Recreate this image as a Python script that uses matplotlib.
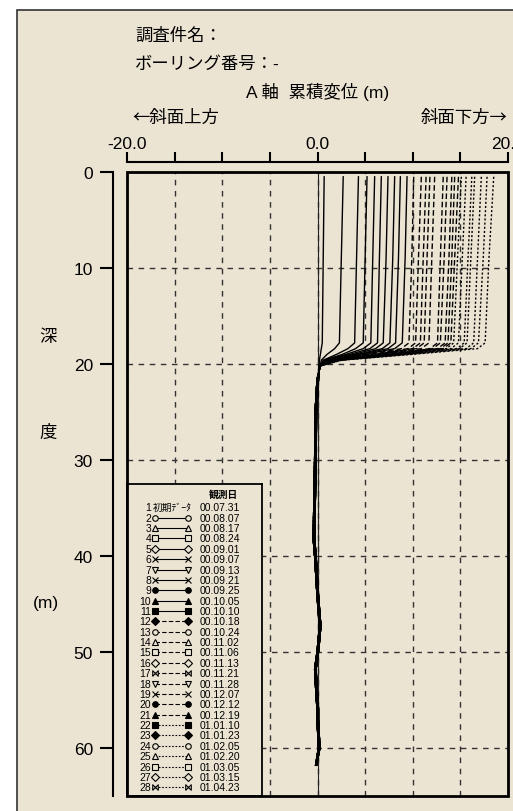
import numpy as np
import matplotlib
matplotlib.use("Agg")
import matplotlib.pyplot as plt
from matplotlib.patches import Rectangle

plt.rcParams['font.family'] = ['Liberation Sans', 'Noto Sans CJK JP', 'DejaVu Sans']

W, H = 513, 812
BG = '#ece4d3'
PT = 0.72  # points per pixel at dpi 100

# observation dates (legend)
dates = ['00.07.31', '00.08.07', '00.08.17', '00.08.24', '00.09.01', '00.09.07',
         '00.09.13', '00.09.21', '00.09.25', '00.10.05', '00.10.10', '00.10.18',
         '00.10.24', '00.11.02', '00.11.06', '00.11.13', '00.11.21', '00.11.28',
         '00.12.07', '00.12.12', '00.12.19', '01.01.10', '01.01.23', '01.02.05',
         '01.02.20', '01.03.05', '01.03.15', '01.04.23']

# depths (m) of the read points above the slip surface
upper_depth = [0.5, 9.0, 17.8, 18.4, 19.0, 19.6]
# cumulative displacement for curves 2..28 at upper_depth
upper_disp = [
    [0.7, 0.6, 0.5, 0.4, 0.3, 0.2],
    [2.7, 2.5, 2.3, 1.8, 1.0, 0.4],
    [4.3, 4.1, 3.9, 3.2, 2.0, 0.6],
    [5.2, 5.0, 4.8, 4.0, 2.6, 0.7],
    [6.0, 5.8, 5.6, 4.8, 3.0, 0.8],
    [6.7, 6.5, 6.3, 5.5, 3.4, 0.9],
    [7.4, 7.2, 6.9, 6.1, 3.8, 1.0],
    [8.1, 7.9, 7.6, 6.8, 4.2, 1.1],
    [8.7, 8.5, 8.2, 7.4, 4.5, 1.2],
    [9.4, 9.2, 8.9, 8.1, 4.9, 1.3],
    [10.1, 9.9, 9.6, 8.8, 5.3, 1.4],
    [10.9, 10.6, 10.3, 9.5, 5.7, 1.5],
    [11.4, 11.1, 10.8, 10.0, 6.0, 1.6],
    [11.8, 11.5, 11.2, 10.4, 6.2, 1.6],
    [12.3, 12.0, 11.7, 10.9, 6.5, 1.7],
    [13.2, 12.9, 12.6, 11.8, 7.0, 1.8],
    [13.6, 13.3, 12.9, 12.1, 7.2, 1.9],
    [14.1, 13.8, 13.4, 12.6, 7.5, 2.0],
    [14.4, 14.1, 13.7, 12.9, 7.6, 2.0],
    [14.8, 14.4, 14.0, 13.2, 7.8, 2.1],
    [15.1, 14.7, 14.3, 13.5, 8.0, 2.1],
    [15.6, 15.2, 14.8, 14.0, 8.3, 2.2],
    [16.2, 15.8, 15.4, 14.6, 8.6, 2.3],
    [16.5, 16.1, 15.7, 14.9, 8.8, 2.3],
    [17.2, 16.8, 16.4, 15.6, 9.2, 2.4],
    [17.8, 17.4, 16.9, 16.1, 9.5, 2.5],
    [18.5, 18.0, 17.6, 16.8, 9.9, 2.6],
]

# below the slip surface all curves stay near zero
deep_depth = [20.2, 21.6, 25, 30, 35.4, 38.2, 40, 44.1, 47.3, 49, 50, 51.8,
              54.5, 55.9, 57, 60, 61.8]
deep_a = [0.2, 0.1, -0.1, -0.15, -0.25, -0.3, -0.15, 0.1, 0.35, 0.2, 0.1,
          -0.15, 0.0, 0.1, 0.1, 0.25, -0.1]
deep_b = [0.3, -0.05, -0.25, -0.3, -0.4, -0.45, -0.3, -0.05, 0.2, 0.05,
          -0.05, -0.3, -0.15, -0.05, -0.05, 0.1, -0.2]

bowtie = [(-1, -1), (-1, 1), (1, -1), (1, 1), (-1, -1)]
markers = [None, 'o', '^', 's', 'D', 'x', 'v', 'x', 'o', '^', 's', 'D',
           'o', '^', 's', 'D', bowtie, 'v', 'x', 'o', '^', 's', 'D',
           'o', '^', 's', 'D', bowtie]
filled = [False] * 28
for k in (9, 10, 11, 12, 20, 21, 22, 23):
    filled[k - 1] = True
styles = ['-'] * 11 + [(0, (4, 2))] * 10 + [(0, (1.5, 1.5))] * 7

fig = plt.figure(figsize=(W / 100, H / 100), dpi=100, facecolor='white')
fig.patches.append(Rectangle((17 / W, -0.1), 1.2, 1 - 11 / H + 0.1,
                             transform=fig.transFigure, fc=BG, ec='#333333',
                             lw=1.2, zorder=-10))

def fx(x):
    return x / W

def fy(y):
    return 1 - y / H

ax = fig.add_axes([fx(127), fy(797), (508 - 127) / W, (797 - 173) / H])
ax.set_facecolor('none')
ax.set_xlim(-20, 20)
ax.set_ylim(65, 0)

# curves
ax.axvline(0, color='#222222', lw=0.8, zorder=2)
ax.plot([0] * len(deep_depth), deep_depth, color='#222222', lw=0.8)
for i, row in enumerate(upper_disp):
    deep = deep_a if i % 2 == 0 else deep_b
    ax.plot(row + deep, upper_depth + deep_depth, color='black', lw=1.0,
            ls=styles[i + 1], zorder=3)

# axes
ax.set_xticks(np.arange(-20, 21, 5))
ax.set_xticklabels(['-20.0', '', '', '', '0.0', '', '', '', '20.0'])
ax.set_yticks(np.arange(0, 61, 10))
ax.xaxis.set_ticks_position('top')
ax.tick_params(axis='x', direction='out', length=10 * PT, width=1.5,
               pad=0.5, labelsize=12.5, top=True, bottom=False,
               labeltop=True, labelbottom=False)
ax.tick_params(axis='y', direction='out', length=13 * PT, width=1.5,
               pad=5, labelsize=12.5)
for s in ('right', 'bottom'):
    ax.spines[s].set_visible(False)
ax.spines['top'].set_position(('outward', 10 * PT))
ax.spines['left'].set_position(('outward', 14 * PT))
ax.spines['top'].set_linewidth(1.5)
ax.spines['left'].set_linewidth(1.5)
ax.grid(True, ls=(0, (4, 4)), color='#333333', lw=1.0)
ax.add_patch(Rectangle((0, 0), 1, 1, transform=ax.transAxes, fill=False,
                       ec='black', lw=2.0, clip_on=False, zorder=6))

# legend box
lg = ax.inset_axes([0, 0, 135 / 381, 312 / 624])
lg.set_facecolor(BG)
lg.set_xlim(0, 135)
lg.set_ylim(312, 0)
lg.set_xticks([])
lg.set_yticks([])
for s in lg.spines.values():
    s.set_linewidth(1.3)
lg.text(96, 10, '観測日', ha='center', va='center', fontsize=7,
        fontweight='bold', family=['Noto Sans CJK JP'])
for i in range(28):
    y = 23.3 + i * 10.37
    lg.text(24, y, str(i + 1), ha='right', va='center', fontsize=7.5)
    lg.text(73, y, dates[i], ha='left', va='center', fontsize=7.5)
    if i == 0:
        lg.text(26, y, '初期ﾃﾞｰﾀ', ha='left', va='center', fontsize=7,
                family=['Noto Sans CJK JP'])
        continue
    lg.plot([28, 61], [y, y], color='black', lw=0.8, ls=styles[i],
            marker=markers[i], ms=4, mew=0.8, mec='black',
            mfc='black' if filled[i] else BG)

# texts
cjk = ['Noto Sans CJK JP']
fig.text(fx(135), fy(36), '調査件名：', ha='left', va='center', fontsize=12.5)
fig.text(fx(135), fy(64), 'ボーリング番号：-', ha='left', va='center', fontsize=12.5)
fig.text(fx(318), fy(92), 'A 軸  累積変位 (m)', ha='center', va='center',
         fontsize=12.5)
fig.text(fx(132), fy(118), '←斜面上方', ha='left', va='center', fontsize=12.5,
         family=cjk)
fig.text(fx(508), fy(118), '斜面下方→', ha='right', va='center', fontsize=12.5,
         family=cjk)
fig.text(fx(48), fy(337), '深', ha='center', va='center', fontsize=12.5)
fig.text(fx(48), fy(433), '度', ha='center', va='center', fontsize=12.5)
fig.text(fx(46), fy(604), '(m)', ha='center', va='center', fontsize=12.5)

fig.savefig('out.png', dpi=100, facecolor='white')
